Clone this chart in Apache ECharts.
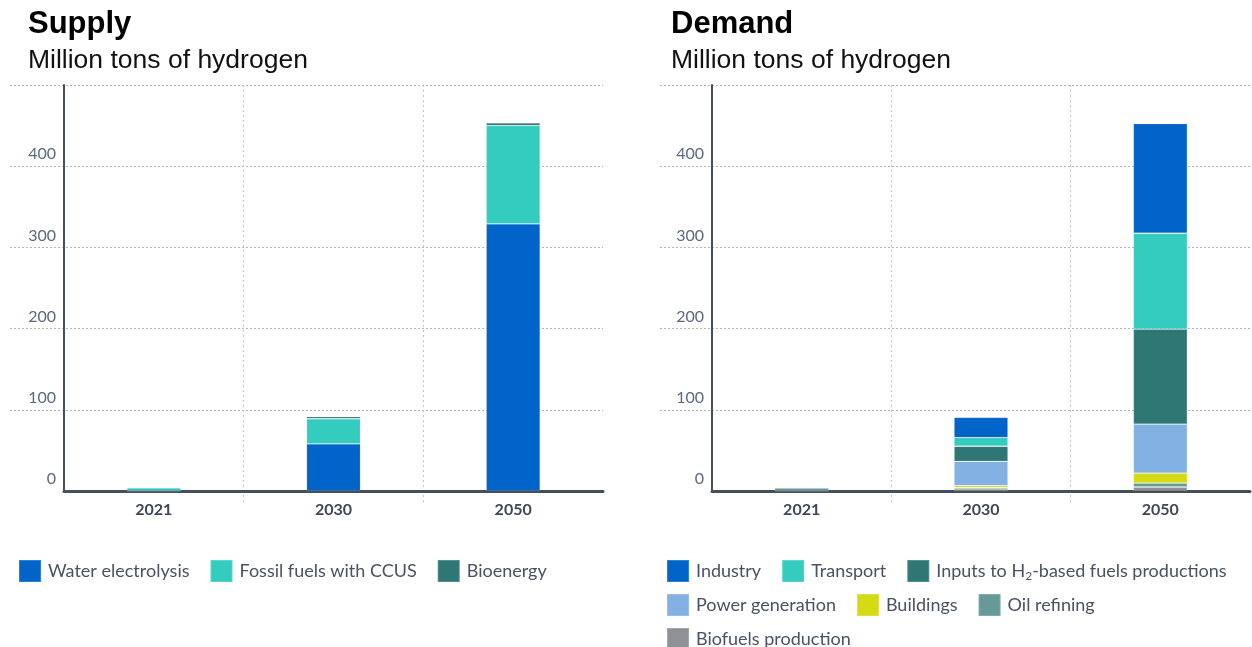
<!DOCTYPE html>
<html>
<head>
<meta charset="utf-8">
<script src="https://cdn.jsdelivr.net/npm/echarts@6/dist/echarts.min.js"></script>
<style>
html,body{margin:0;padding:0;background:#fff;}
#c{width:1252px;height:647px;}
</style>
</head>
<body>
<div id="c"></div>
<script>
// ---- data ----
const categories = ['2021', '2030', '2050'];
const yTicks = [0, 100, 200, 300, 400, 500];

const supplyNames = ['Water electrolysis', 'Fossil fuels with CCUS', 'Bioenergy'];
const supplyWaterElectrolysis = [0, 58, 329];
const supplyFossilCCUS = [4, 31, 121];
const supplyBioenergy = [0, 2.5, 3.3];

const demandNames = ['Industry', 'Transport', 'Inputs to H2-based fuels productions',
  'Power generation', 'Buildings', 'Oil refining', 'Biofuels production'];
const demandIndustry = [0, 25, 135];
const demandTransport = [0, 10.6, 118];
const demandInputsH2 = [0, 18.5, 117];
const demandPowerGeneration = [0, 30, 60.3];
const demandBuildings = [0, 2.5, 12.3];
const demandOilRefining = [4, 1.6, 4.9];
const demandBiofuels = [0, 2.5, 4.9];

// ---- styles ----
const C = {
  blue: '#0064c8', teal: '#33ccbf', dark: '#2e7774',
  light: '#83b1e3', yellow: '#d4da14', oil: '#659a98', grey: '#8e9297'
};
const FONT = 'Lato, "Open Sans", sans-serif';
const axisDark = '#454e5b';
const gridGrey = '#b4b4b4';
const yMin = yTicks[0], yMax = yTicks[yTicks.length - 1], yStep = yTicks[1] - yTicks[0];

const panels = [
  {left: 64, right: 603, hleft: 10},
  {left: 712, right: 1250, hleft: 660}
];
const TOP = 85, BASE = 491, VBASE = 505, W = 1252, H = 647;

const grids = [], xAxes = [], yAxes = [];
panels.forEach((p, i) => {
  grids.push({left: p.left, width: p.right - p.left, top: TOP, height: BASE - TOP});
  grids.push({left: p.hleft, width: p.right - p.hleft, top: TOP, height: BASE - TOP});
  grids.push({left: p.left, width: p.right - p.left, top: TOP, height: VBASE - TOP});
  const g = i * 3;
  xAxes.push({
    type: 'category', gridIndex: g, data: categories,
    axisLine: {show: true, lineStyle: {color: axisDark, width: 3}},
    axisTick: {show: false}, splitLine: {show: false},
    axisLabel: {margin: 11, fontFamily: FONT, fontSize: 16, fontWeight: 'bold', color: '#3e4756'}
  });
  yAxes.push({
    type: 'value', gridIndex: g, min: yMin, max: yMax, interval: yStep,
    axisLine: {show: true, lineStyle: {color: axisDark, width: 2}},
    axisTick: {show: false}, splitLine: {show: false},
    axisLabel: {
      margin: 8, fontFamily: FONT, fontSize: 16, color: '#5a6781',
      verticalAlign: 'bottom', lineHeight: 16, padding: [0, 0, 4, 0],
      formatter: v => (v === yMax ? '' : String(v))
    }
  });
  xAxes.push({type: 'value', gridIndex: g + 1, show: false});
  yAxes.push({
    type: 'value', gridIndex: g + 1, min: yMin, max: yMax, interval: yStep,
    axisLine: {show: false}, axisTick: {show: false}, axisLabel: {show: false},
    splitLine: {show: true, showMinLine: false, lineStyle: {color: gridGrey, type: [2, 2], width: 1}}
  });
  xAxes.push({
    type: 'category', gridIndex: g + 2, data: categories,
    axisLine: {show: false}, axisTick: {show: false}, axisLabel: {show: false},
    splitLine: {show: true, showMinLine: false, showMaxLine: false,
      lineStyle: {color: '#c4c4c4', type: [2, 3], width: 1}}
  });
  yAxes.push({type: 'value', gridIndex: g + 2, show: false, min: 0, max: 1});
});

function bar(name, data, color, axisIdx, stack) {
  return {
    name, type: 'bar', stack, data,
    xAxisIndex: axisIdx, yAxisIndex: axisIdx,
    barWidth: 54,
    itemStyle: {color, borderColor: 'rgba(255,255,255,0.18)', borderWidth: 0.8},
    emphasis: {disabled: true}
  };
}

const series = [
  bar(supplyNames[0], supplyWaterElectrolysis, C.blue, 0, 's'),
  bar(supplyNames[1], supplyFossilCCUS, C.teal, 0, 's'),
  bar(supplyNames[2], supplyBioenergy, C.dark, 0, 's'),
  bar(demandNames[6], demandBiofuels, C.grey, 3, 'd'),
  bar(demandNames[5], demandOilRefining, C.oil, 3, 'd'),
  bar(demandNames[4], demandBuildings, C.yellow, 3, 'd'),
  bar(demandNames[3], demandPowerGeneration, C.light, 3, 'd'),
  bar(demandNames[2], demandInputsH2, C.dark, 3, 'd'),
  bar(demandNames[1], demandTransport, C.teal, 3, 'd'),
  bar(demandNames[0], demandIndustry, C.blue, 3, 'd')
];

const legendBase = {
  orient: 'horizontal', icon: 'rect', itemWidth: 22, itemHeight: 22, itemGap: 20,
  selectedMode: false, padding: 0,
  textStyle: {
    fontFamily: FONT, fontSize: 18, color: '#485264', padding: [0, 0, 0, 2],
    rich: {
      a: {fontFamily: FONT, fontSize: 18, color: '#485264', lineHeight: 22},
      s: {fontFamily: FONT, fontSize: 12, color: '#485264', lineHeight: 22, verticalAlign: 'bottom'}
    }
  },
  formatter: name => name === 'Inputs to H2-based fuels productions'
    ? '{a|Inputs to H}{s|2}{a|-based fuels productions}' : name
};

const titles = [
  {text: 'Supply', left: 28, top: 9},
  {text: 'Million tons of hydrogen', left: 28, top: 47, sub: true},
  {text: 'Demand', left: 671, top: 9},
  {text: 'Million tons of hydrogen', left: 671, top: 47, sub: true}
].map(t => ({
  text: t.text, left: t.left, top: t.top, padding: 0,
  textStyle: t.sub
    ? {fontFamily: '"Liberation Sans", Arial, sans-serif', fontSize: 26.5, fontWeight: 'normal', color: '#111'}
    : {fontFamily: '"Liberation Sans", Arial, sans-serif', fontSize: 31, fontWeight: 'bold', color: '#000'}
}));

const option = {
  animation: false,
  backgroundColor: '#ffffff',
  title: titles,
  grid: grids,
  xAxis: xAxes,
  yAxis: yAxes,
  legend: [
    Object.assign({}, legendBase, {left: 18, top: 559, data: supplyNames}),
    Object.assign({}, legendBase, {left: 666, top: 559, data: demandNames.slice(0, 3)}),
    Object.assign({}, legendBase, {left: 666, top: 593, data: demandNames.slice(3, 6)}),
    Object.assign({}, legendBase, {left: 666, top: 627, data: demandNames.slice(6)})
  ],
  series
};

const chart = echarts.init(document.getElementById('c'), null, {renderer: 'canvas', width: W, height: H});
chart.setOption(option);
</script>
</body>
</html>
